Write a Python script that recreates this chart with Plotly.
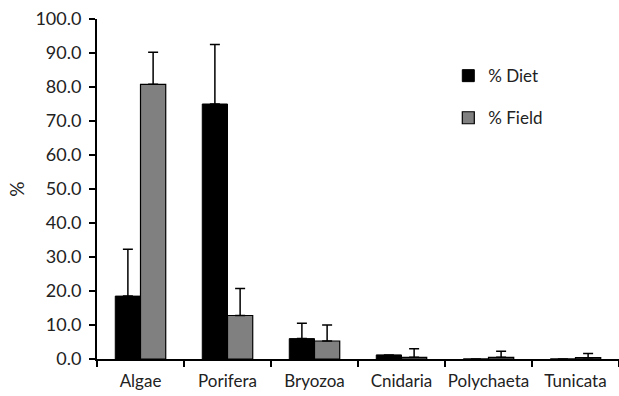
import plotly.graph_objects as go

categories = ["Algae", "Porifera", "Bryozoa", "Cnidaria", "Polychaeta", "Tunicata"]
diet = [18.5, 75.0, 6.0, 1.2, 0.0, 0.0]
diet_err = [13.8, 17.5, 4.5, 0.0, 0.0, 0.0]
field = [80.8, 12.8, 5.3, 0.5, 0.5, 0.4]
field_err = [9.4, 7.9, 4.7, 2.5, 1.8, 1.2]

font = "Lato, 'Open Sans', sans-serif"

fig = go.Figure()
fig.add_trace(go.Bar(
    x=categories, y=diet, name="% Diet", legendgroup="a",
    marker=dict(color="#000000", line=dict(color="#000000", width=1)),
    error_y=dict(type="data", array=diet_err, arrayminus=[0]*6, symmetric=False,
                 color="#000000", thickness=1.5, width=5),
))
fig.add_trace(go.Bar(
    x=categories, y=field, name="% Field", legendgroup="b",
    marker=dict(color="#808080", line=dict(color="#000000", width=1.2)),
    error_y=dict(type="data", array=field_err, arrayminus=[0]*6, symmetric=False,
                 color="#000000", thickness=1.5, width=5),
))

fig.update_layout(
    width=619, height=396,
    margin=dict(l=97, r=0, t=19, b=37, autoexpand=False),
    paper_bgcolor="white", plot_bgcolor="white",
    barmode="group", bargap=0.42, bargroupgap=0,
    font=dict(family=font, size=18, color="#222222"),
    showlegend=True,
    legend=dict(x=0.673, y=0.885, xanchor="left", yanchor="top",
                font=dict(size=17), tracegroupgap=17, itemwidth=30,
                bgcolor="rgba(0,0,0,0)"),
    xaxis=dict(showline=True, linecolor="#000000", linewidth=2, automargin=False,
               ticks="outside", tickson="boundaries", ticklen=6, tickwidth=2,
               tickcolor="#000000", showgrid=False, tickangle=0,
               ticklabelstandoff=6,
               tickfont=dict(size=17, color="#222222")),
    yaxis=dict(range=[0, 100], dtick=10, tickformat=".1f", automargin=False,
               showline=True, linecolor="#000000", linewidth=2,
               ticks="outside", ticklen=6, tickwidth=2, tickcolor="#000000",
               showgrid=False, zeroline=False, ticklabelstandoff=4,
               title=dict(text="%", font=dict(size=19), standoff=6),
               tickfont=dict(size=18, color="#222222")),
)

fig.write_html("out.html", config={"displayModeBar": False},
               post_script="document.body.style.margin='0';document.body.style.overflow='hidden';")
